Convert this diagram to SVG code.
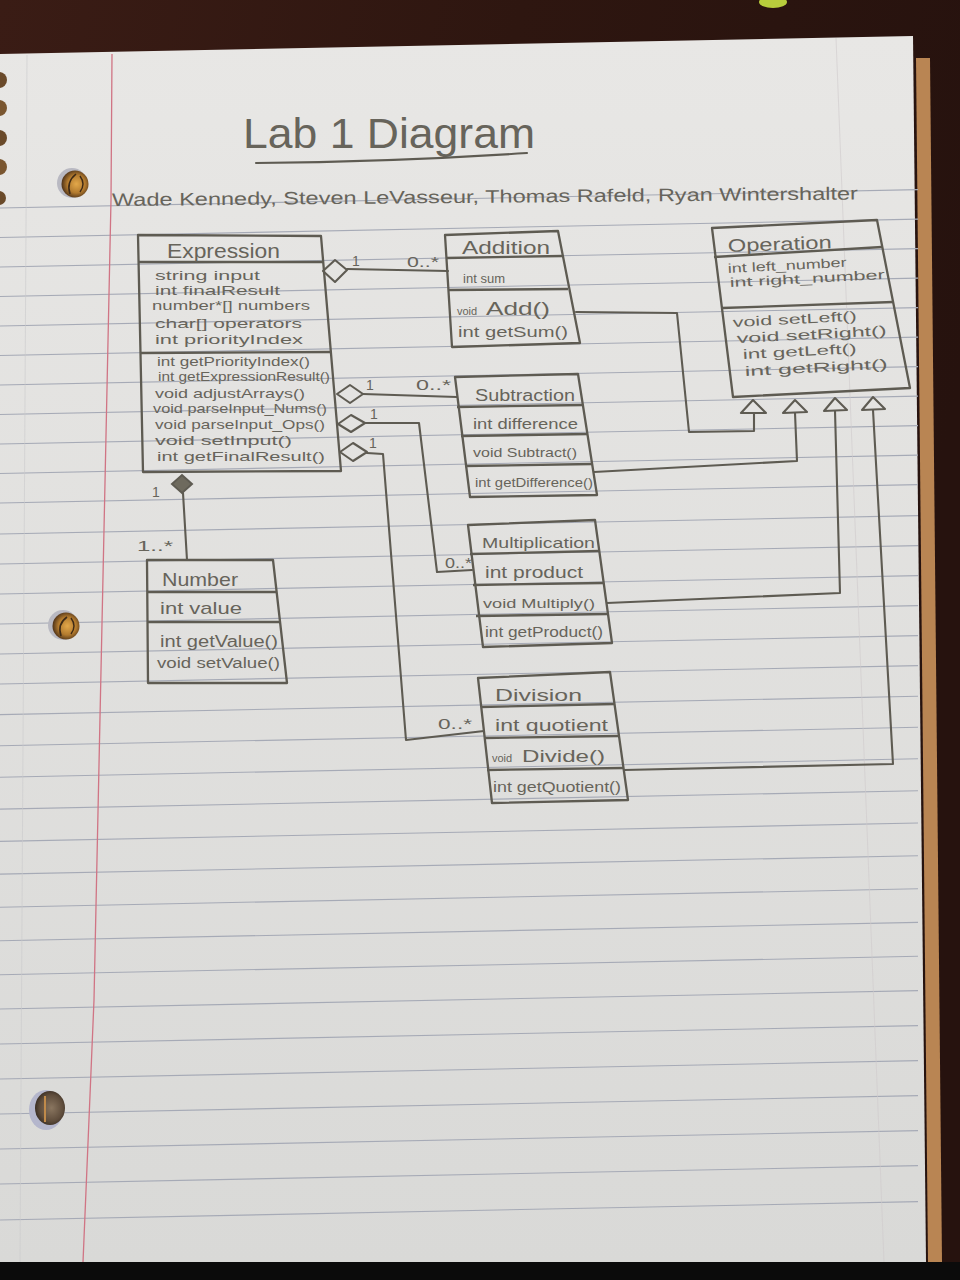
<svg xmlns="http://www.w3.org/2000/svg" width="960" height="1280" viewBox="0 0 960 1280">
  <style>
    .pen { fill: none; stroke: #5e5b52; stroke-width: 2.1; stroke-linejoin: round; stroke-linecap: round; }
    .box { fill: none; stroke: #5e5b52; stroke-width: 2.3; stroke-linejoin: round; }
    .tri { fill: #e4e3e1; stroke: #5e5b52; stroke-width: 2.1; stroke-linejoin: round; }
    .rule { stroke: #a6aab6; stroke-width: 1.1; }
    .hw { font-family: "Liberation Sans", "DejaVu Sans", sans-serif; fill: #67645b; }
    .lbl { font-family: "Liberation Sans", "DejaVu Sans", sans-serif; fill: #67645b; font-size: 14px; }
  </style>
  <defs>
    <linearGradient id="wood" x1="0" y1="0" x2="1" y2="0.3">
      <stop offset="0" stop-color="#3a1c15"/>
      <stop offset="0.5" stop-color="#2e1610"/>
      <stop offset="1" stop-color="#26120e"/>
    </linearGradient>
    <linearGradient id="sheet" x1="0" y1="0" x2="0" y2="1">
      <stop offset="0" stop-color="#e8e7e5"/>
      <stop offset="1" stop-color="#d9d9d7"/>
    </linearGradient>
    <radialGradient id="holeWarm" cx="0.55" cy="0.5" r="0.55">
      <stop offset="0" stop-color="#e3a84a"/>
      <stop offset="0.6" stop-color="#b27a2e"/>
      <stop offset="1" stop-color="#4e3218"/>
    </radialGradient>
    <radialGradient id="holeDark" cx="0.55" cy="0.5" r="0.55">
      <stop offset="0" stop-color="#8a7660"/>
      <stop offset="0.7" stop-color="#5f4d3c"/>
      <stop offset="1" stop-color="#3a2e24"/>
    </radialGradient>
  </defs>

  <!-- desk and backdrop -->
  <rect width="960" height="1280" fill="url(#wood)"/>
  <rect x="0" y="1262" width="960" height="18" fill="#0b0b0b"/>
  <ellipse cx="773" cy="2" rx="14" ry="6" fill="#b8cd3c"/>

  <!-- sheets underneath, then the notebook page -->
  <polygon points="916,58 930,58 942,1262 928,1262" fill="#b98553"/>
  <polygon points="0,54 913,36 926,1262 0,1262" fill="url(#sheet)"/>

  <!-- ruled lines -->
  <g id="ruling">
    <path class="rule" d="M0 208 L918 189.6"/>
    <path class="rule" d="M0 237.5 L918 219.1"/>
    <path class="rule" d="M0 267 L918 248.6"/>
    <path class="rule" d="M0 296.5 L918 278.1"/>
    <path class="rule" d="M0 326 L918 307.6"/>
    <path class="rule" d="M0 355.5 L918 337.1"/>
    <path class="rule" d="M0 385 L918 366.6"/>
    <path class="rule" d="M0 414.5 L918 396.1"/>
    <path class="rule" d="M0 444 L918 425.6"/>
    <path class="rule" d="M0 473.5 L918 455.1"/>
    <path class="rule" d="M0 503 L918 484.6"/>
    <path class="rule" d="M0 534 L918 515.6"/>
    <path class="rule" d="M0 564 L918 545.6"/>
    <path class="rule" d="M0 594 L918 575.6"/>
    <path class="rule" d="M0 624 L918 605.6"/>
    <path class="rule" d="M0 654 L918 635.6"/>
    <path class="rule" d="M0 684 L918 665.6"/>
    <path class="rule" d="M0 714.6 L918 696.2"/>
    <path class="rule" d="M0 745.7 L918 727.3"/>
    <path class="rule" d="M0 777.2 L918 758.8"/>
    <path class="rule" d="M0 809.1 L918 790.7"/>
    <path class="rule" d="M0 841.4 L918 823"/>
    <path class="rule" d="M0 874.1 L918 855.7"/>
    <path class="rule" d="M0 907.2 L918 888.8"/>
    <path class="rule" d="M0 940.8 L918 922.4"/>
    <path class="rule" d="M0 974.7 L918 956.3"/>
    <path class="rule" d="M0 1009 L918 990.6"/>
    <path class="rule" d="M0 1044 L918 1025.6"/>
    <path class="rule" d="M0 1079 L918 1060.6"/>
    <path class="rule" d="M0 1114 L918 1095.6"/>
    <path class="rule" d="M0 1149 L918 1130.6"/>
    <path class="rule" d="M0 1184 L918 1165.6"/>
    <path class="rule" d="M0 1220 L918 1201.6"/>
  </g>

  <!-- margin, faint creases -->
  <path d="M112 54 L111 200 L94 1000 L83 1262" fill="none" stroke="#d07484" stroke-width="1.3"/>
  <path d="M27 55 L20 1262" fill="none" stroke="#c9c9cb" stroke-width="1" opacity="0.6"/>
  <path d="M836 38 L884 1262" fill="none" stroke="#cfc9cb" stroke-width="1" opacity="0.6"/>

  <!-- binding holes -->
  <g id="spiral-edge">
    <circle cx="-1" cy="80" r="8" fill="#6a4a2a"/>
    <circle cx="-1" cy="108" r="8" fill="#7a5630"/>
    <circle cx="-1" cy="138" r="8" fill="#6a4a2a"/>
    <circle cx="-1" cy="167" r="8" fill="#7a5630"/>
    <circle cx="-1" cy="198" r="7" fill="#6a4a2a"/>
  </g>
  <g id="punch-holes">
    <circle cx="72" cy="183" r="15" fill="#b9b9c2"/>
    <circle cx="75" cy="184" r="13.5" fill="url(#holeWarm)"/>
    <path d="M70 194 Q66 182 76 174" fill="none" stroke="#3e2a16" stroke-width="1.6"/>
    <path d="M80 192 Q86 184 80 176" fill="none" stroke="#3e2a16" stroke-width="1.4"/>
    <circle cx="63" cy="625" r="15" fill="#b9b9c2"/>
    <circle cx="66" cy="626" r="13.5" fill="url(#holeWarm)"/>
    <path d="M61 636 Q57 624 67 617" fill="none" stroke="#3e2a16" stroke-width="1.6"/>
    <path d="M71 634 Q77 626 71 618" fill="none" stroke="#3e2a16" stroke-width="1.4"/>
    <ellipse cx="46" cy="1110" rx="17" ry="20" fill="#b4b6cc"/>
    <ellipse cx="50" cy="1108" rx="15" ry="17" fill="url(#holeDark)"/>
    <path d="M45 1096 L45 1122" fill="none" stroke="#c08a4a" stroke-width="2"/>
  </g>

  <!-- heading -->
  <g id="title">
    <text class="hw" x="243" y="148" font-size="42" textLength="292" lengthAdjust="spacingAndGlyphs">Lab 1 Diagram</text>
    <path class="pen" d="M256 163 Q390 162 527 153"/>
  </g>
  <g id="authors">
    <text class="hw" x="112" y="206" font-size="18" textLength="746" lengthAdjust="spacingAndGlyphs" transform="rotate(-0.5 112 206)">Wade Kennedy, Steven LeVasseur, Thomas Rafeld, Ryan Wintershalter</text>
  </g>

  <!-- connectors -->
  <g id="connectors">
    <!-- aggregations from Expression -->
    <polygon class="pen" points="323,271 335,260 347,270 335,282"/>
    <path class="pen" d="M347 269 L448 271"/>
    <text class="lbl" x="352" y="266">1</text>
    <text class="lbl" x="407" y="267" font-size="15" textLength="32" lengthAdjust="spacingAndGlyphs">0..*</text>

    <polygon class="pen" points="337,394 350,385 363,394 350,403"/>
    <path class="pen" d="M363 394 L457 397"/>
    <text class="lbl" x="366" y="390">1</text>
    <text class="lbl" x="416" y="390" font-size="15" textLength="35" lengthAdjust="spacingAndGlyphs">0..*</text>

    <polygon class="pen" points="338,424 351,415 365,423 351,432"/>
    <path class="pen" d="M365 423 L419 423 L437 572 L472 570"/>
    <text class="lbl" x="370" y="419">1</text>
    <text class="lbl" x="445" y="568" font-size="13" textLength="27" lengthAdjust="spacingAndGlyphs">0..*</text>

    <polygon class="pen" points="340,452 353,443 367,452 353,461"/>
    <path class="pen" d="M367 453 L383 454 L406 740 L484 731"/>
    <text class="lbl" x="369" y="448">1</text>
    <text class="lbl" x="438" y="729" font-size="15" textLength="34" lengthAdjust="spacingAndGlyphs">0..*</text>

    <!-- composition Expression - Number -->
    <polygon points="172,484 182,475 192,484 182,493" fill="#6e6a5e" stroke="#5e5b52" stroke-width="2"/>
    <path class="pen" d="M183 493 L187 560"/>
    <text class="lbl" x="152" y="497">1</text>
    <text class="lbl" x="137" y="551" font-size="16" textLength="36" lengthAdjust="spacingAndGlyphs">1..*</text>

    <!-- generalizations to Operation -->
    <path class="pen" d="M576 312 L677 313 L689 432 L754 431 L754 413"/>
    <path class="pen" d="M594 472 L797 461 L795 413"/>
    <path class="pen" d="M607 603 L840 593 L835 411"/>
    <path class="pen" d="M624 770 L893 764 L873 410"/>
    <polygon class="tri" points="753,400 741,413 766,413"/>
    <polygon class="tri" points="795,400 783,413 807,412"/>
    <polygon class="tri" points="835,398 824,411 847,410"/>
    <polygon class="tri" points="873,397 862,410 885,409"/>
  </g>

  <!-- Expression -->
  <g id="expression">
    <path class="box" d="M138 235 L321 236 L341 471 L143 472 Z"/>
    <path class="box" d="M138 262 L323 262"/>
    <path class="box" d="M141 353 L332 352"/>
    <text class="hw" x="167" y="258" font-size="21" textLength="113" lengthAdjust="spacingAndGlyphs">Expression</text>
    <g font-size="13.5">
      <text class="hw" x="155" y="280" textLength="105" lengthAdjust="spacingAndGlyphs">string input</text>
      <text class="hw" x="155" y="295" textLength="125" lengthAdjust="spacingAndGlyphs">int finalResult</text>
      <text class="hw" x="152" y="310" textLength="158" lengthAdjust="spacingAndGlyphs">number*[] numbers</text>
      <text class="hw" x="155" y="328" textLength="147" lengthAdjust="spacingAndGlyphs">char[] operators</text>
      <text class="hw" x="155" y="344" textLength="148" lengthAdjust="spacingAndGlyphs">int priorityIndex</text>
    </g>
    <g font-size="13">
      <text class="hw" x="157" y="366" textLength="153" lengthAdjust="spacingAndGlyphs">int getPriorityIndex()</text>
      <text class="hw" x="158" y="381" textLength="172" lengthAdjust="spacingAndGlyphs">int getExpressionResult()</text>
      <text class="hw" x="155" y="398" textLength="150" lengthAdjust="spacingAndGlyphs">void adjustArrays()</text>
      <text class="hw" x="153" y="413" textLength="174" lengthAdjust="spacingAndGlyphs">void parseInput_Nums()</text>
      <text class="hw" x="155" y="429" textLength="170" lengthAdjust="spacingAndGlyphs">void parseInput_Ops()</text>
      <text class="hw" x="155" y="445" textLength="137" lengthAdjust="spacingAndGlyphs">void setInput()</text>
      <text class="hw" x="157" y="461" textLength="168" lengthAdjust="spacingAndGlyphs">int getFinalResult()</text>
    </g>
  </g>

  <!-- Addition -->
  <g id="addition">
    <path class="box" d="M445 235 L558 231 L580 343 L452 347 Z"/>
    <path class="box" d="M446 258 L562 256"/>
    <path class="box" d="M449 290 L568 289"/>
    <text class="hw" x="462" y="254" font-size="19" textLength="88" lengthAdjust="spacingAndGlyphs">Addition</text>
    <text class="hw" x="463" y="283" font-size="13" textLength="42" lengthAdjust="spacingAndGlyphs">int sum</text>
    <text class="hw" x="457" y="315" font-size="11">void</text>
    <text class="hw" x="486" y="315" font-size="18" textLength="64" lengthAdjust="spacingAndGlyphs">Add()</text>
    <text class="hw" x="458" y="337" font-size="15" textLength="110" lengthAdjust="spacingAndGlyphs">int getSum()</text>
  </g>

  <!-- Operation -->
  <g id="operation">
    <path class="box" d="M712 228 L877 220 L910 388 L733 397 Z"/>
    <path class="box" d="M714 257 L882 247"/>
    <path class="box" d="M722 308 L893 302"/>
    <text class="hw" x="728" y="252" font-size="18" textLength="104" lengthAdjust="spacingAndGlyphs" transform="rotate(-2 728 252)">Operation</text>
    <g font-size="13">
      <text class="hw" x="728" y="273" textLength="119" lengthAdjust="spacingAndGlyphs" transform="rotate(-3 728 273)">int left_number</text>
      <text class="hw" x="730" y="287" textLength="155" lengthAdjust="spacingAndGlyphs" transform="rotate(-3 730 287)">int right_number</text>
    </g>
    <g font-size="13.5">
      <text class="hw" x="733" y="327" textLength="124" lengthAdjust="spacingAndGlyphs" transform="rotate(-3 733 327)">void setLeft()</text>
      <text class="hw" x="737" y="343" textLength="150" lengthAdjust="spacingAndGlyphs" transform="rotate(-3 737 343)">void setRight()</text>
      <text class="hw" x="743" y="359" textLength="114" lengthAdjust="spacingAndGlyphs" transform="rotate(-3 743 359)">int getLeft()</text>
      <text class="hw" x="745" y="376" textLength="143" lengthAdjust="spacingAndGlyphs" transform="rotate(-3 745 376)">int getRight()</text>
    </g>
  </g>

  <!-- Subtraction -->
  <g id="subtraction">
    <path class="box" d="M455 377 L578 374 L597 495 L470 497 Z"/>
    <path class="box" d="M457 407 L583 405"/>
    <path class="box" d="M461 436 L588 434"/>
    <path class="box" d="M465 466 L592 464"/>
    <text class="hw" x="475" y="401" font-size="16" textLength="100" lengthAdjust="spacingAndGlyphs">Subtraction</text>
    <text class="hw" x="473" y="429" font-size="15" textLength="105" lengthAdjust="spacingAndGlyphs">int difference</text>
    <text class="hw" x="473" y="457" font-size="13" textLength="104" lengthAdjust="spacingAndGlyphs">void Subtract()</text>
    <text class="hw" x="475" y="487" font-size="12" textLength="118" lengthAdjust="spacingAndGlyphs">int getDifference()</text>
  </g>

  <!-- Multiplication -->
  <g id="multiplication">
    <path class="box" d="M468 525 L595 520 L612 643 L483 647 Z"/>
    <path class="box" d="M470 554 L599 551"/>
    <path class="box" d="M473 585 L603 583"/>
    <path class="box" d="M476 616 L607 614"/>
    <text class="hw" x="482" y="548" font-size="15" textLength="113" lengthAdjust="spacingAndGlyphs">Multiplication</text>
    <text class="hw" x="485" y="578" font-size="17" textLength="98" lengthAdjust="spacingAndGlyphs">int product</text>
    <text class="hw" x="483" y="608" font-size="13" textLength="112" lengthAdjust="spacingAndGlyphs">void Multiply()</text>
    <text class="hw" x="485" y="637" font-size="14" textLength="118" lengthAdjust="spacingAndGlyphs">int getProduct()</text>
  </g>

  <!-- Division -->
  <g id="division">
    <path class="box" d="M478 678 L610 672 L628 800 L492 803 Z"/>
    <path class="box" d="M481 707 L614 704"/>
    <path class="box" d="M484 738 L618 736"/>
    <path class="box" d="M487 770 L623 768"/>
    <text class="hw" x="495" y="701" font-size="17" textLength="87" lengthAdjust="spacingAndGlyphs">Division</text>
    <text class="hw" x="495" y="731" font-size="16" textLength="113" lengthAdjust="spacingAndGlyphs">int quotient</text>
    <text class="hw" x="492" y="762" font-size="11">void</text>
    <text class="hw" x="522" y="762" font-size="16" textLength="83" lengthAdjust="spacingAndGlyphs">Divide()</text>
    <text class="hw" x="493" y="792" font-size="14" textLength="128" lengthAdjust="spacingAndGlyphs">int getQuotient()</text>
  </g>

  <!-- Number -->
  <g id="number">
    <path class="box" d="M147 560 L273 560 L287 683 L148 683 Z"/>
    <path class="box" d="M148 592 L277 592"/>
    <path class="box" d="M148 622 L280 622"/>
    <text class="hw" x="162" y="586" font-size="19" textLength="76" lengthAdjust="spacingAndGlyphs">Number</text>
    <text class="hw" x="160" y="614" font-size="17" textLength="82" lengthAdjust="spacingAndGlyphs">int value</text>
    <text class="hw" x="160" y="647" font-size="16" textLength="118" lengthAdjust="spacingAndGlyphs">int getValue()</text>
    <text class="hw" x="157" y="668" font-size="14" textLength="123" lengthAdjust="spacingAndGlyphs">void setValue()</text>
  </g>
</svg>
